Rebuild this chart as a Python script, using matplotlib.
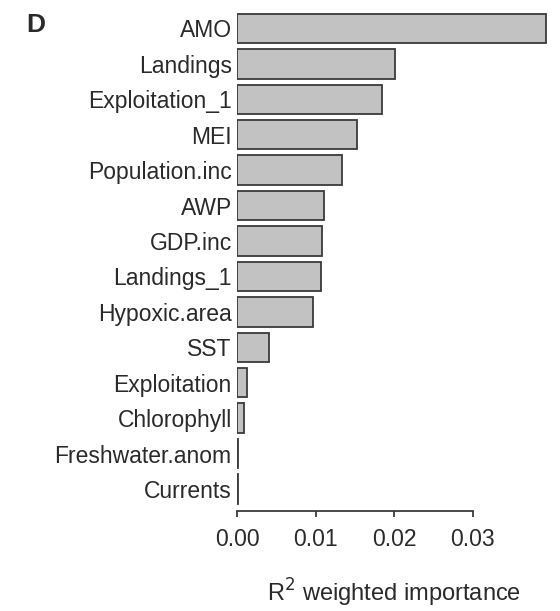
import matplotlib
matplotlib.use("Agg")
import numpy as np
import matplotlib.pyplot as plt

plt.rcParams['font.family'] = ['Liberation Sans', 'DejaVu Sans']

# relative importance of predictors (R^2 weighted)
predictors = ["AMO", "Landings", "Exploitation_1", "MEI", "Population.inc",
              "AWP", "GDP.inc", "Landings_1", "Hypoxic.area", "SST",
              "Exploitation", "Chlorophyll", "Freshwater.anom", "Currents"]
importance = [0.0393, 0.0201, 0.0184, 0.0152, 0.0133,
              0.0111, 0.0108, 0.0107, 0.0097, 0.0040,
              0.0012, 0.0009, 0.0001, 0.00005]
xticks = [0.00, 0.01, 0.02, 0.03]

ink = "#2a2a2a"
fs = 16.5

fig = plt.figure(figsize=(5.6, 6.11), dpi=100)
ax = fig.add_axes([0.4237, 0.1707, 0.9845 - 0.4237, 0.9825 - 0.1707])

# R-style axis: only a detached bottom line spanning the ticks
for side in ["top", "right", "left"]:
    ax.spines[side].set_visible(False)
ax.spines["bottom"].set_position(("outward", 3))
ax.spines["bottom"].set_linewidth(1.3)
ax.spines["bottom"].set_color("#3a3a3a")

pos = np.arange(len(predictors))
ax.barh(pos, importance, height=0.83, color="#c2c2c2",
        edgecolor="#3a3a3a", linewidth=1.3)

ax.set_ylim(len(predictors) - 0.5, -0.5)
ax.set_xlim(0, 0.04)

ax.set_yticks(pos)
ax.set_yticklabels(predictors, fontsize=fs, color=ink)
ax.tick_params(axis="y", length=0, pad=4)

ax.set_xticks(xticks)
ax.set_xticklabels([f"{t:.2f}" for t in xticks], fontsize=fs, color=ink)
ax.tick_params(axis="x", length=4, width=1.3, color="#3a3a3a", pad=8)
ax.spines["bottom"].set_bounds(0, 0.03)

ax.set_xlabel(r"R$^2$ weighted importance", fontsize=17, color=ink,
              labelpad=19)

fig.text(36 / 560, 1 - 25 / 611, "D", fontsize=19, fontweight="bold",
         color=ink, ha="center", va="center")

fig.savefig("out.png", dpi=100)
